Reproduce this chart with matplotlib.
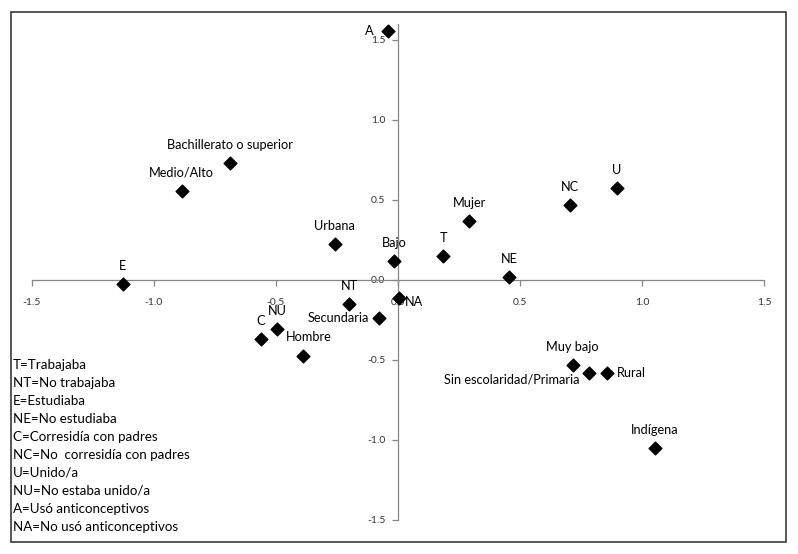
import matplotlib
matplotlib.use("Agg")
import matplotlib.pyplot as plt
from matplotlib.patches import Rectangle

labels = ["A", "Bachillerato o superior", "Medio/Alto", "Urbana", "Bajo", "T", "Mujer",
          "NC", "U", "NE", "E", "NT", "NA", "Secundaria", "NU", "C", "Hombre",
          "Muy bajo", "Sin escolaridad/Primaria", "Rural", "Indígena"]
x_vals = [-0.042, -0.687, -0.886, -0.258, -0.016, 0.186, 0.293,
          0.704, 0.898, 0.455, -1.127, -0.200, 0.005, -0.077, -0.495, -0.561, -0.388,
          0.716, 0.782, 0.857, 1.054]
y_vals = [1.555, 0.726, 0.553, 0.220, 0.116, 0.147, 0.364,
          0.466, 0.572, 0.018, -0.030, -0.153, -0.116, -0.240, -0.311, -0.372, -0.478,
          -0.533, -0.583, -0.583, -1.053]
# label placement: (dx points, dy points, ha, va)
placement = {
    "A": (-10, 0, "right", "center"),
    "NA": (4, -3, "left", "center"),
    "Secundaria": (-7, 0, "right", "center"),
    "Sin escolaridad/Primaria": (-7, -5, "right", "center"),
    "Rural": (7, 0, "left", "center"),
    "Hombre": (4, 14, "center", "center"),
}
ticks = [-1.5, -1.0, -0.5, 0.0, 0.5, 1.0, 1.5]
tick_labels = ["-1.5", "-1.0", "-0.5", "0.0", "0.5", "1.0", "1.5"]
legend_lines = ["T=Trabajaba", "NT=No trabajaba", "E=Estudiaba", "NE=No estudiaba",
                "C=Corresidía con padres", "NC=No  corresidía con padres", "U=Unido/a",
                "NU=No estaba unido/a", "A=Usó anticonceptivos", "NA=No usó anticonceptivos"]

plt.rcParams['font.family'] = ['Lato', 'DejaVu Sans']

W, H = 798, 554
fig = plt.figure(figsize=(W / 100, H / 100), dpi=100)
fig.patch.set_facecolor("white")

# outer border
fig.add_artist(Rectangle((10.5 / W, 1 - 542.3 / H), (786.3 - 10.5) / W, (542.3 - 11.5) / H,
                         transform=fig.transFigure, fill=False, edgecolor="#3a3a3a", linewidth=1.2))

left = 31.7 / W
right = 764.0 / W
top_px = 279.5 - 1.6 * 160
bot_px = 279.5 + 1.5 * 160
ax = fig.add_axes([left, 1 - bot_px / H, right - left, (bot_px - top_px) / H])
ax.set_xlim(-1.5, 1.5)
ax.set_ylim(-1.5, 1.6)
ax.patch.set_visible(False)

for s in ["top", "right"]:
    ax.spines[s].set_visible(False)
ax.spines["left"].set_position(("data", 0))
ax.spines["bottom"].set_position(("data", 0))
for s in ["left", "bottom"]:
    ax.spines[s].set_color("#868686")
    ax.spines[s].set_linewidth(0.9)

ax.set_xticks(ticks)
ax.set_xticklabels(tick_labels)
ax.set_yticks(ticks)
ax.set_yticklabels(tick_labels)
ax.tick_params(axis="both", direction="out", length=4, width=0.9, color="#868686",
               labelsize=7.5, labelcolor="#333333")
ax.tick_params(axis="x", pad=9)
ax.tick_params(axis="y", pad=5)

ax.scatter(x_vals, y_vals, marker="D", s=42, color="black", zorder=5, clip_on=False)

for lab, xv, yv in zip(labels, x_vals, y_vals):
    dx, dy, ha, va = placement.get(lab, (0, 13, "center", "center"))
    ax.annotate(lab, (xv, yv), xytext=(dx, dy), textcoords="offset points",
                ha=ha, va=va, fontsize=9.2, color="black", zorder=6)

for i, line in enumerate(legend_lines):
    yp = 364.7 + i * 18.0
    fig.text(13 / W, 1 - yp / H, line, ha="left", va="center", fontsize=9.6, color="black")

fig.savefig("out.png", dpi=100, facecolor="white")
